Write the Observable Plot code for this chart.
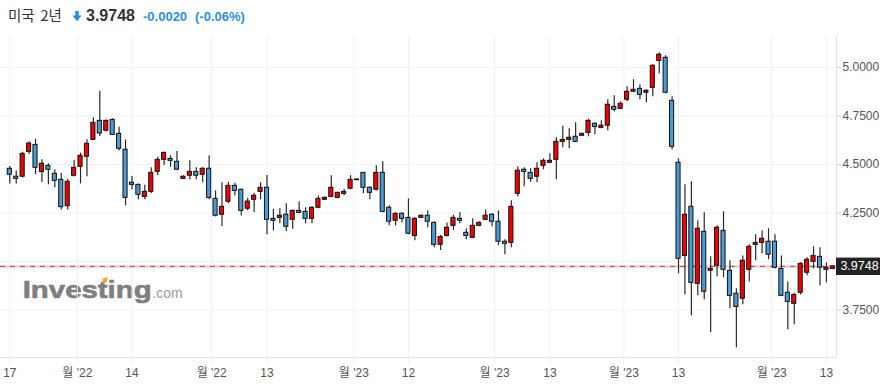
<!DOCTYPE html>
<html><head><meta charset="utf-8">
<script src="https://cdn.jsdelivr.net/npm/d3@7"></script>
<script src="https://cdn.jsdelivr.net/npm/@observablehq/plot@0.6"></script>
<style>
html,body{margin:0;padding:0;background:#fff;}
#wrap{position:relative;width:893px;height:391px;overflow:hidden;}
#hdr{position:absolute;left:0;top:0;}
#chart{position:absolute;left:0;top:36px;}
</style></head><body>
<div id="wrap">
<svg id="hdr" width="893" height="36" xmlns="http://www.w3.org/2000/svg">
  <text x="8" y="21" font-size="14.5" fill="#333" font-family="'Noto Sans CJK KR',sans-serif" word-spacing="2.5">미국 2년</text>
  <path d="M75.2 11 h3.6 v4.6 h2.8 l-4.6 5.6 l-4.6 -5.6 h2.8 z" fill="#2a8fe0"/>
  <text x="86" y="21" font-size="16" font-weight="bold" fill="#333" font-family="'Liberation Sans',sans-serif">3.9748</text>
  <text x="143" y="21" font-size="13" font-weight="bold" fill="#2a8fe0" font-family="'Liberation Sans',sans-serif">-0.0020</text>
  <text x="195" y="21" font-size="13" font-weight="bold" fill="#2a8fe0" font-family="'Liberation Sans',sans-serif">(-0.06%)</text>
</svg>
<div id="chart"></div>
</div>
<script>
const opens = [4.478,4.437,4.437,4.565,4.601,4.462,4.493,4.452,4.421,4.285,
4.442,4.488,4.540,4.627,4.725,4.674,4.730,4.658,4.576,4.406,
4.395,4.333,4.359,4.462,4.524,4.529,4.514,4.426,4.442,4.462,
4.447,4.478,4.323,4.241,4.308,4.390,4.370,4.272,4.318,4.359,
4.380,4.220,4.225,4.241,4.215,4.261,4.256,4.220,4.277,4.318,
4.333,4.328,4.349,4.375,4.419,4.457,4.380,4.370,4.457,4.277,
4.210,4.246,4.225,4.132,4.225,4.236,4.199,4.086,4.132,4.184,
4.220,4.148,4.122,4.184,4.215,4.241,4.205,4.102,4.096,4.349,
4.473,4.457,4.437,4.493,4.509,4.524,4.617,4.627,4.643,4.648,
4.663,4.710,4.689,4.700,4.797,4.787,4.834,4.875,4.890,4.870,
4.895,5.034,5.050,4.828,4.509,4.029,4.282,3.885,4.153,3.952,
3.978,4.158,3.952,3.834,3.808,3.957,4.086,4.096,4.102,4.102,
3.962,3.839,3.782,3.839,3.942,3.998,4.024,3.957,3.962];
const closes = [4.447,4.426,4.555,4.608,4.483,4.504,4.473,4.416,4.280,4.411,
4.483,4.545,4.607,4.715,4.660,4.725,4.653,4.581,4.328,4.395,
4.344,4.359,4.457,4.524,4.560,4.519,4.473,4.437,4.462,4.442,
4.478,4.328,4.236,4.282,4.390,4.364,4.261,4.309,4.339,4.380,
4.215,4.210,4.236,4.179,4.261,4.251,4.220,4.277,4.323,4.328,
4.380,4.354,4.359,4.421,4.423,4.380,4.354,4.457,4.256,4.205,
4.246,4.220,4.143,4.220,4.236,4.205,4.086,4.126,4.174,4.225,
4.210,4.132,4.184,4.199,4.236,4.205,4.102,4.091,4.282,4.468,
4.462,4.426,4.478,4.519,4.519,4.617,4.627,4.638,4.617,4.658,
4.725,4.694,4.700,4.808,4.782,4.813,4.875,4.885,4.859,4.880,
5.009,5.066,4.870,4.591,4.014,4.241,3.890,4.169,3.844,3.962,
4.174,3.957,3.823,3.766,4.004,4.076,4.096,4.117,4.035,3.968,
3.823,3.792,3.828,3.988,4.009,4.029,3.968,3.968,3.9748];
const highs = [4.490,4.466,4.563,4.617,4.630,4.524,4.504,4.473,4.455,4.424,
4.521,4.558,4.627,4.741,4.878,4.730,4.736,4.692,4.627,4.438,
4.400,4.393,4.483,4.538,4.563,4.545,4.567,4.442,4.519,4.483,
4.483,4.545,4.364,4.406,4.408,4.404,4.373,4.326,4.352,4.406,
4.443,4.268,4.272,4.298,4.266,4.308,4.277,4.282,4.337,4.334,
4.442,4.357,4.373,4.442,4.424,4.459,4.385,4.493,4.514,4.287,
4.251,4.251,4.323,4.225,4.238,4.261,4.205,4.134,4.199,4.239,
4.251,4.169,4.220,4.205,4.266,4.246,4.261,4.112,4.313,4.488,
4.483,4.478,4.509,4.529,4.555,4.638,4.697,4.684,4.715,4.661,
4.733,4.715,4.725,4.834,4.854,4.823,4.901,4.937,4.911,4.885,
5.014,5.076,5.060,4.849,4.529,4.395,4.411,4.210,4.251,4.024,
4.184,4.256,4.004,3.859,4.029,4.086,4.138,4.158,4.169,4.138,
4.029,3.895,3.834,3.993,4.019,4.076,4.071,3.993,3.977];
const lows = [4.400,4.400,4.431,4.552,4.447,4.407,4.395,4.380,4.266,4.266,
4.435,4.400,4.437,4.624,4.644,4.667,4.649,4.569,4.287,4.370,
4.318,4.318,4.349,4.443,4.495,4.486,4.469,4.423,4.421,4.421,
4.406,4.318,4.230,4.180,4.298,4.339,4.234,4.261,4.253,4.318,
4.138,4.158,4.194,4.155,4.166,4.246,4.194,4.194,4.272,4.316,
4.328,4.323,4.339,4.370,4.418,4.349,4.318,4.364,4.251,4.184,
4.184,4.199,4.138,4.107,4.222,4.174,4.071,4.057,4.126,4.160,
4.194,4.112,4.117,4.179,4.210,4.179,4.081,4.035,4.071,4.333,
4.385,4.409,4.406,4.473,4.504,4.421,4.586,4.581,4.612,4.645,
4.643,4.653,4.684,4.674,4.772,4.782,4.823,4.870,4.834,4.818,
4.849,4.968,4.864,4.576,3.937,3.828,3.720,3.823,3.803,3.633,
3.921,3.916,3.756,3.555,3.777,3.895,4.004,4.040,4.009,3.962,
3.818,3.648,3.674,3.828,3.926,3.962,3.875,3.890,3.957];

const tickIdx = [0, 10.5, 19, 31.4, 40, 53.5, 62, 75.4, 84, 95.5, 104, 118.5, 127];
const tickLabels = ["17","월 '22","14","월 '22","13","월 '23","12","월 '23","13","월 '23","13","월 '23","13"];
const yTicks = [3.75, 4.0, 4.25, 4.5, 4.75, 5.0];
const yLabelTicks = [3.75, 4.25, 4.5, 4.75, 5.0];
const lastPrice = 3.9748;

const xDomain = [-1.446, 128.57];
const yDomain = [3.5052, 5.1598];
const UP = "#f20000", DOWN = "#4a9bd8";

const candles = opens.map((o, i) => ({i, open: o, close: closes[i], high: highs[i], low: lows[i]}));
const labelMap = new Map(tickIdx.map((t, k) => [t, tickLabels[k]]));
const FONT = "'Liberation Sans','Noto Sans CJK KR',sans-serif";

const chart = Plot.plot({
  width: 893, height: 355,
  marginLeft: 0, marginRight: 57, marginTop: 0, marginBottom: 34,
  style: {fontFamily: FONT, fontSize: "12px", background: "transparent", overflow: "visible"},
  x: {type: "linear", domain: xDomain, axis: null, label: null},
  y: {type: "linear", domain: yDomain, axis: null, label: null},
  marks: [
    Plot.gridX(tickIdx, {stroke: "#f1f1f1", strokeOpacity: 1}),
    Plot.gridY(yTicks, {stroke: "#f2f2f2", strokeOpacity: 1}),
    Plot.ruleY([yDomain[0]], {stroke: "#dfe2e8"}),
    Plot.ruleX([xDomain[1]], {stroke: "#dfe2e8"}),
    Plot.axisX(tickIdx, {anchor: "bottom", label: null, tickSize: 6, tickPadding: 5, tickFormat: d => labelMap.get(d), stroke: "#eceef2", fill: "#555", fontSize: 12}),
    Plot.axisY(yLabelTicks, {anchor: "right", label: null, tickSize: 4, tickPadding: 2, tickFormat: d => d.toFixed(4), stroke: "#d0d4db", fill: "#555", fontSize: 12}),
    Plot.ruleY([lastPrice], {stroke: "#ffcaca", strokeWidth: 2.5}),
    Plot.ruleY([lastPrice], {stroke: "#8a5a62", strokeWidth: 1, strokeDasharray: "5,5"}),
    Plot.ruleX(candles, {x: "i", y1: "low", y2: "high", stroke: "#2a2a2a", strokeWidth: 1.2}),
    Plot.rect(candles, {x1: d => d.i - 0.32, x2: d => d.i + 0.32, y1: "open", y2: "close",
      fill: d => d.close >= d.open ? UP : DOWN, stroke: "#111", strokeWidth: 1})
  ]
});
document.getElementById("chart").appendChild(chart);

// price label box on the right axis, positioned through the y scale
const svg = d3.select(chart);
const py = chart.scale("y").apply(lastPrice);
const px = chart.scale("x").apply(xDomain[1]);
const g = svg.append("g");
g.append("rect").attr("x", px).attr("y", py - 8.3).attr("width", 44).attr("height", 17.4).attr("fill", "#222");
g.append("text").attr("x", px + 23.5).attr("y", py + 1).attr("dominant-baseline", "middle")
  .attr("text-anchor", "middle").attr("fill", "#fff").attr("font-size", 12.5).attr("font-family", FONT)
  .text(lastPrice.toFixed(4));

// watermark
const wm = svg.insert("g", ":first-child").attr("text-anchor", "start");
wm.append("text").attr("x", 22.7).attr("y", 261.7).attr("font-size", 23.5).attr("font-weight", "bold")
  .attr("fill", "#7f7f7f").attr("stroke", "#7f7f7f").attr("stroke-width", 0.6)
  .attr("font-family", FONT).attr("textLength", 129).attr("lengthAdjust", "spacingAndGlyphs").text("Investing");
wm.append("path").attr("d", "M103 242.5 l5 -1.5 l-1.2 5 l-5 1.2 z").attr("fill", "#f5a623");
wm.append("text").attr("x", 152.5).attr("y", 261.7).attr("font-size", 15)
  .attr("fill", "#9a9a9a").attr("font-family", FONT).attr("textLength", 30).attr("lengthAdjust", "spacingAndGlyphs").text(".com");
</script>
</body></html>
